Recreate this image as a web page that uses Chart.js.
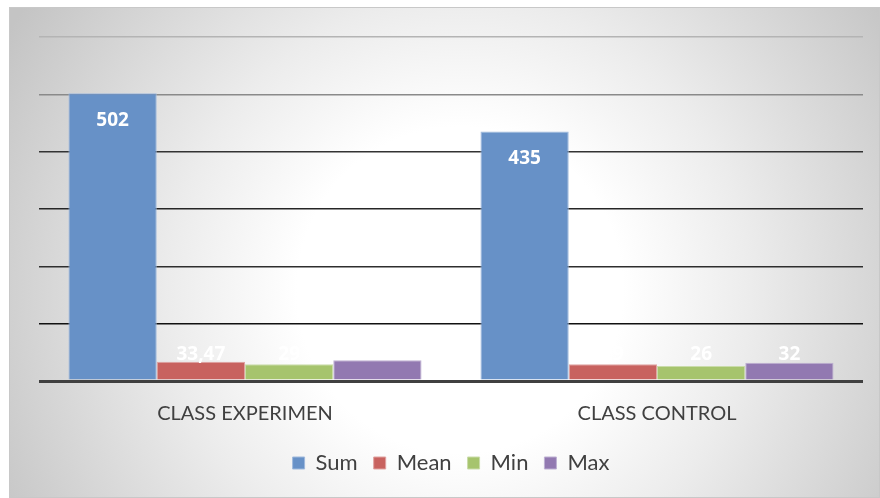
<!DOCTYPE html>
<html>
<head>
<meta charset="utf-8">
<script src="https://cdn.jsdelivr.net/npm/chart.js@4"></script>
<style>
  html, body { margin: 0; padding: 0; background: #fff; }
  #wrap { width: 880px; height: 498px; }
</style>
</head>
<body>
<div id="wrap"><canvas id="myChart" width="880" height="498"></canvas></div>
<script>
const categories = ['CLASS EXPERIMEN', 'CLASS CONTROL'];
const sumValues = [502, 435];
const meanValues = [33.47, 29];
const minValues = [29, 26];
const maxValues = [36, 32];
const yTicks = [0, 100, 200, 300, 400, 500, 600];

const gridColors = {0: '#404040', 100: '#111111', 200: '#2e2e2e', 300: '#262626', 400: '#333333', 500: '#8a8a8a', 600: '#b4b4b4'};

const backgroundPlugin = {
    id: 'bg',
    beforeDraw(chart) {
        const c = chart.ctx;
        c.save();
        c.fillStyle = '#ffffff';
        c.fillRect(0, 0, chart.width, chart.height);
        const g = c.createRadialGradient(460, 290, 10, 460, 290, 520);
        g.addColorStop(0, '#ffffff');
        g.addColorStop(0.3, '#ffffff');
        g.addColorStop(0.55, '#ececec');
        g.addColorStop(1, '#c4c4c4');
        c.fillStyle = g;
        c.fillRect(9, 7, chart.width - 9, chart.height - 7);
        c.strokeStyle = '#c8c8c8';
        c.lineWidth = 1;
        c.strokeRect(9.5, 7.5, chart.width - 10, chart.height - 8);
        c.restore();
    }
};

const valueLabels = {
    id: 'valueLabels',
    afterDatasetsDraw(chart) {
        const c = chart.ctx;
        const base = chart.scales.y.getPixelForValue(0);
        c.save();
        c.font = 'bold 19px "Open Sans", sans-serif';
        c.fillStyle = '#ffffff';
        c.textAlign = 'center';
        c.textBaseline = 'middle';
        chart.data.datasets.forEach((ds, i) => {
            chart.getDatasetMeta(i).data.forEach((bar, j) => {
                const y = Math.min(bar.y + 27, base - 26);
                c.fillText(String(ds.data[j]).replace('.', ','), bar.x, y);
            });
        });
        c.restore();
    }
};

const ctx = document.getElementById('myChart').getContext('2d');
const myChart = new Chart(ctx, {
    type: 'bar',
    data: {
        labels: categories,
        datasets: [
            {label: 'Sum', data: sumValues, backgroundColor: '#6791c7', borderColor: '#9fb9dc', borderWidth: 1},
            {label: 'Mean', data: meanValues, backgroundColor: '#c8625f', borderColor: '#e0a3a1', borderWidth: 1},
            {label: 'Min', data: minValues, backgroundColor: '#a6c46d', borderColor: '#cadcaa', borderWidth: 1},
            {label: 'Max', data: maxValues, backgroundColor: '#9279b1', borderColor: '#bdb0d2', borderWidth: 1}
        ]
    },
    options: {
        responsive: false,
        animation: false,
        layout: {
            padding: {top: 37, left: 39, right: 17, bottom: 14}
        },
        datasets: {
            bar: {barPercentage: 1, categoryPercentage: 0.857}
        },
        plugins: {
            legend: {
                display: true,
                position: 'bottom',
                labels: {
                    color: '#404040',
                    boxWidth: 12,
                    boxHeight: 12,
                    padding: 16,
                    font: {family: 'Lato', size: 22}
                }
            },
            tooltip: {enabled: false}
        },
        scales: {
            x: {
                grid: {display: false},
                border: {display: false},
                ticks: {
                    color: '#404040',
                    padding: 13,
                    font: {family: 'Lato', size: 20}
                },
                afterFit(scale) { scale.height = 55; }
            },
            y: {
                min: 0,
                max: 600,
                afterBuildTicks(scale) { scale.ticks = yTicks.map(v => ({value: v})); },
                ticks: {display: false},
                border: {display: false},
                grid: {
                    drawTicks: false,
                    color: (c) => gridColors[c.tick.value] || '#555',
                    lineWidth: (c) => c.tick.value === 0 ? 3 : 1.5
                },
                afterFit(scale) { scale.width = 0; }
            }
        }
    },
    plugins: [backgroundPlugin, valueLabels]
});
</script>
</body>
</html>
